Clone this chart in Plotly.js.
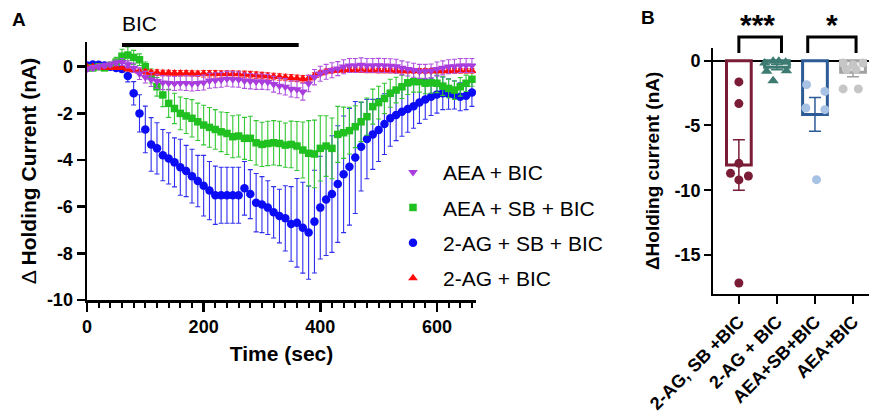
<!DOCTYPE html>
<html>
<head>
<meta charset="utf-8">
<script src="https://cdn.plot.ly/plotly-3.0.1.min.js"></script>
<style>html,body{margin:0;padding:0;background:#fff;}#chart{width:869px;height:414px;}</style>
</head>
<body>
<div id="chart"></div>
<script>
// ---------- Panel A data ----------
const timeSec = [0,10,20,30,40,50,60,70,80,90,
  100,110,120,130,140,150,160,170,180,190,
  200,210,220,230,240,250,260,270,280,290,
  300,310,320,330,340,350,360,370,380,390,
  400,410,420,430,440,450,460,470,480,490,
  500,510,520,530,540,550,560,570,580,590,
  600,610,620,630,640,650,660];

const agSbMean = [0.05,0.1,0.08,0.05,0.0,-0.05,-0.1,-0.4,-1.14,-2.0,
  -2.69,-3.33,-3.5,-3.79,-3.93,-4.1,-4.31,-4.47,-4.69,-4.9,
  -5.1,-5.31,-5.51,-5.51,-5.51,-5.51,-5.51,-5.21,-5.46,-5.83,
  -5.91,-6.04,-6.24,-6.4,-6.5,-6.74,-6.69,-6.9,-7.11,-6.64,
  -6.04,-5.69,-5.46,-5.03,-4.61,-4.29,-3.89,-3.43,-3.1,-2.9,
  -2.71,-2.46,-2.21,-2.07,-1.93,-1.81,-1.69,-1.53,-1.4,-1.29,
  -1.19,-1.14,-1.17,-1.21,-1.29,-1.24,-1.1];
const agSbSem = [0.08,0.08,0.08,0.08,0.08,0.1,0.12,0.25,0.5,0.8,
  1.0,1.15,1.1,1.1,1.1,1.05,1.2,1.1,1.15,1.1,
  1.3,1.25,1.25,1.2,1.2,1.2,1.2,1.15,1.05,1.25,
  1.2,1.15,1.1,1.15,1.4,1.6,1.9,1.95,2.0,2.2,
  2.2,2.4,2.5,2.5,2.5,2.5,2.4,1.9,1.7,1.5,
  1.35,1.3,1.2,1.1,1.05,1.0,0.95,0.9,0.85,0.8,
  0.8,0.7,0.65,0.6,0.6,0.6,0.6];

const aeaSbMean = [-0.05,-0.05,0.0,-0.05,0.05,0.2,0.45,0.5,0.4,0.3,
  0.0,-0.4,-0.86,-1.21,-1.57,-1.79,-2.0,-2.11,-2.21,-2.36,
  -2.5,-2.6,-2.69,-2.79,-2.86,-3.0,-2.97,-3.07,-3.07,-3.26,
  -3.33,-3.29,-3.26,-3.29,-3.36,-3.33,-3.4,-3.57,-3.71,-3.74,
  -3.5,-3.4,-3.5,-2.9,-2.83,-2.74,-2.57,-2.36,-2.14,-1.71,
  -1.54,-1.36,-1.14,-1.0,-0.86,-0.69,-0.64,-0.64,-0.71,-0.69,
  -0.71,-0.83,-0.93,-1.0,-0.86,-0.71,-0.54];
const aeaSbSem = [0.1,0.1,0.1,0.1,0.15,0.2,0.3,0.35,0.3,0.25,
  0.2,0.3,0.4,0.5,0.6,0.65,0.7,0.75,0.8,0.8,
  0.85,0.85,0.85,0.85,0.9,0.9,0.9,0.9,0.95,0.95,
  0.95,0.95,0.95,0.95,0.95,1.0,1.05,1.2,1.4,1.45,
  1.4,1.3,1.3,1.2,1.1,1.0,0.9,0.85,0.8,0.75,
  0.7,0.65,0.6,0.55,0.5,0.5,0.45,0.45,0.45,0.45,
  0.4,0.4,0.4,0.4,0.4,0.35,0.3];

const aeaMean = [-0.1,-0.05,0.0,0.05,0.1,0.17,0.2,0.1,-0.05,-0.3,
  -0.45,-0.55,-0.62,-0.68,-0.7,-0.72,-0.7,-0.7,-0.72,-0.7,
  -0.68,-0.6,-0.58,-0.56,-0.52,-0.54,-0.55,-0.6,-0.62,-0.64,
  -0.64,-0.66,-0.75,-0.82,-0.86,-0.95,-0.97,-1.07,-0.72,-0.45,
  -0.3,-0.22,-0.15,-0.08,0.0,0.05,0.05,0.08,0.05,0.05,
  0.06,0.05,0.04,0.02,-0.05,-0.1,-0.15,-0.2,-0.2,-0.18,
  -0.1,-0.05,0.0,0.02,0.05,0.05,0.05];
const aeaSem = [0.1,0.1,0.1,0.1,0.1,0.12,0.15,0.15,0.2,0.25,
  0.25,0.3,0.3,0.3,0.3,0.3,0.3,0.32,0.32,0.32,
  0.32,0.32,0.32,0.32,0.32,0.33,0.33,0.33,0.33,0.33,
  0.33,0.33,0.34,0.34,0.35,0.35,0.36,0.36,0.35,0.33,
  0.32,0.32,0.32,0.3,0.3,0.3,0.3,0.3,0.3,0.3,
  0.3,0.3,0.3,0.3,0.3,0.3,0.3,0.3,0.3,0.3,
  0.3,0.3,0.3,0.3,0.3,0.3,0.3];

const agMean = [0.0,0.0,-0.02,-0.05,-0.05,-0.05,-0.05,-0.1,-0.15,-0.2,
  -0.22,-0.25,-0.25,-0.27,-0.27,-0.28,-0.28,-0.28,-0.29,-0.3,
  -0.3,-0.3,-0.3,-0.31,-0.31,-0.31,-0.32,-0.33,-0.34,-0.36,
  -0.38,-0.4,-0.42,-0.44,-0.46,-0.48,-0.5,-0.52,-0.5,-0.38,
  -0.27,-0.2,-0.17,-0.15,-0.14,-0.14,-0.15,-0.15,-0.16,-0.16,
  -0.17,-0.17,-0.17,-0.18,-0.18,-0.18,-0.18,-0.18,-0.18,-0.18,
  -0.18,-0.18,-0.18,-0.18,-0.18,-0.18,-0.18];
const agSem = [0.05,0.05,0.05,0.05,0.05,0.05,0.05,0.08,0.1,0.1,
  0.1,0.1,0.12,0.12,0.12,0.12,0.12,0.12,0.12,0.12,
  0.14,0.14,0.14,0.14,0.14,0.14,0.14,0.14,0.14,0.14,
  0.14,0.14,0.14,0.14,0.14,0.14,0.14,0.14,0.13,0.12,
  0.1,0.1,0.1,0.1,0.1,0.1,0.1,0.1,0.1,0.1,
  0.1,0.1,0.1,0.1,0.1,0.1,0.1,0.1,0.1,0.1,
  0.1,0.1,0.1,0.1,0.1,0.1,0.1];

const seriesNames = ["AEA + BIC", "AEA + SB + BIC", "2-AG + SB + BIC", "2-AG + BIC"];
const aTickVals = [0, -2, -4, -6, -8, -10];
const aTickText = ["0", "-2", "-4", "-6", "-8", "-10"];
const timeTickVals = [0, 200, 400, 600];

// ---------- Panel B data ----------
const bCategories = ["2-AG, SB +BIC", "2-AG + BIC", "AEA+SB+BIC", "AEA+BIC"];
const bMeans = [-8.05, -0.5, -4.15, -0.9];
const bSem = [1.95, 0.2, 1.3, 0.35];
const bPts1 = [-1.64, -3.31, -7.92, -8.69, -9.2, -8.9, -17.15];
const bPts2 = [-0.18, -0.05, -0.05, -0.13, -0.82, -0.77, -1.54];
const bPts3 = [-1.85, -2.37, -3.65, -3.78, -9.18];
const bPts4 = [-0.18, -0.31, -0.18, -0.69, -0.69, -2.18, -2.18];
const bTickVals = [0, -5, -10, -15];
const bTickText = ["0", "-5", "-10", "-15"];

// horizontal spread of dots (layout only)
const spread1 = [0, 0, 0, -0.22, 0, 0.25, 0];
const spread2 = [-0.32, -0.1, 0.05, 0.23, -0.27, 0.25, -0.1];
const spread3 = [-0.22, 0.26, -0.24, 0.26, 0.04];
const spread4 = [-0.26, 0, 0.26, -0.17, 0.08, -0.26, 0.14];

// ---------- styling ----------
const FONT = "Liberation Sans, Arial, sans-serif";
const W = 869, H = 414;
const px = v => v / W;
const py = v => 1 - v / H;

function tsTrace(name, y, err, color, errColor, symbol, size, rank) {
  return {
    type: "scatter", mode: "markers", name: name, x: timeSec, y: y,
    xaxis: "x", yaxis: "y", legendgroup: name, legendrank: rank,
    marker: {color: color, symbol: symbol, size: size, line: {width: 0}},
    error_y: {type: "data", array: err, visible: true, color: errColor, thickness: 1.1, width: 2.5}
  };
}

const traces = [
  tsTrace(seriesNames[2], agSbMean, agSbSem, "#0b0bf5", "#2f2ff0", "circle", 8.5, 3),
  tsTrace(seriesNames[1], aeaSbMean, aeaSbSem, "#1fc01f", "#33c833", "square", 7.5, 2),
  tsTrace(seriesNames[3], agMean, agSem, "#ff0a0a", "#ff3030", "triangle-up", 8.5, 4),
  tsTrace(seriesNames[0], aeaMean, aeaSem, "#a83cdc", "#b050e0", "triangle-down", 8.5, 1)
];

const barColors = ["#7a1c36", "#3d7b72", "#2c5b95", "#a0a0a0"];
const dotColors = ["#7a1c36", "#3d7b72", "#a8c2e4", "#c6c6c6"];
const dotSymbols = ["circle", "triangle-up", "circle", "circle"];
const dotSizes = [9, 10, 9, 9];
const allPts = [bPts1, bPts2, bPts3, bPts4];
const allSpread = [spread1, spread2, spread3, spread4];

for (let i = 0; i < 4; i++) {
  traces.push({
    type: "bar", x: [i], y: [bMeans[i]], xaxis: "x2", yaxis: "y2", width: 0.65,
    showlegend: false,
    marker: {color: "rgba(255,255,255,0)", line: {color: barColors[i], width: 3}},
    error_y: {type: "data", array: [bSem[i]], visible: true, color: barColors[i], thickness: 1.5, width: 6}
  });
}
for (let i = 0; i < 4; i++) {
  traces.push({
    type: "scatter", mode: "markers", xaxis: "x2", yaxis: "y2", showlegend: false,
    x: allPts[i].map((v, k) => i + allSpread[i][k]), y: allPts[i],
    marker: {color: dotColors[i], symbol: dotSymbols[i], size: dotSizes[i], line: {width: 0}}
  });
}

const tickFont = {family: FONT, size: 18, color: "#000", weight: "bold"};

const layout = {
  width: W, height: H,
  margin: {l: 0, r: 0, t: 0, b: 0},
  paper_bgcolor: "#fff", plot_bgcolor: "rgba(0,0,0,0)",
  font: {family: FONT, color: "#000"},
  barmode: "overlay",
  showlegend: true,
  legend: {
    x: px(383), xanchor: "left", y: py(152), yanchor: "top",
    font: {family: FONT, size: 21, color: "#000"},
    itemwidth: 50, traceorder: "grouped", tracegroupgap: 5,
    bgcolor: "rgba(0,0,0,0)", borderwidth: 0
  },
  xaxis: {
    domain: [px(87), px(476)], range: [0, 667], anchor: "y",
    showline: true, linecolor: "#000", linewidth: 2.5, mirror: false,
    ticks: "outside", ticklen: 9, tickwidth: 2.5, tickcolor: "#000",
    tickvals: timeTickVals, tickfont: tickFont,
    minor: {ticks: "outside", dtick: 20, tick0: 0, ticklen: 5, tickwidth: 2, tickcolor: "#000", showgrid: false},
    showgrid: false, zeroline: false, automargin: false,
    title: {text: "Time (sec)", font: {family: FONT, size: 21, weight: "bold", color: "#000"}, standoff: 10}
  },
  yaxis: {
    domain: [py(300), py(42)], range: [-10, 1.06], anchor: "x",
    showline: true, linecolor: "#000", linewidth: 2.5,
    ticks: "outside", ticklen: 8, tickwidth: 2.5, tickcolor: "#000",
    tickvals: aTickVals, ticktext: aTickText, tickfont: tickFont,
    showgrid: false, zeroline: false, automargin: false,
    title: {text: "Δ <b>Holding Current (nA)</b>", font: {family: FONT, size: 21, color: "#000"}, standoff: 5}
  },
  xaxis2: {
    domain: [px(713), 1], range: [-0.68, 3.42], anchor: "y2",
    showline: true, linecolor: "#000", linewidth: 2,
    ticks: "outside", ticklen: 8, tickwidth: 2, tickcolor: "#000",
    tickvals: [0, 1, 2, 3], ticktext: bCategories, tickangle: -45,
    tickfont: {family: FONT, size: 18, color: "#000", weight: "bold"},
    showgrid: false, zeroline: false, automargin: false
  },
  yaxis2: {
    domain: [py(294), py(47.7)], range: [-18, 1], anchor: "x2",
    showline: true, linecolor: "#000", linewidth: 2,
    ticks: "outside", ticklen: 7, tickwidth: 2, tickcolor: "#000",
    tickvals: bTickVals, ticktext: bTickText, tickfont: tickFont,
    showgrid: false, zeroline: true, zerolinecolor: "#000", zerolinewidth: 2, automargin: false,
    title: {text: "ΔHolding current (nA)", font: {family: FONT, size: 19, weight: "bold", color: "#000"}, standoff: 10}
  },
  shapes: [
    {type: "line", xref: "x", yref: "y", x0: 60, x1: 363, y0: 0.93, y1: 0.93, line: {color: "#000", width: 4}},
    {type: "path", xref: "x2", yref: "paper",
     path: `M0,${py(53)} L0,${py(37)} L1.12,${py(37)} L1.12,${py(53)}`, line: {color: "#000", width: 3}},
    {type: "path", xref: "x2", yref: "paper",
     path: `M1.81,${py(53)} L1.81,${py(37)} L3.08,${py(37)} L3.08,${py(53)}`, line: {color: "#000", width: 3}}
  ],
  annotations: [
    {text: "<b>A</b>", x: px(19), y: py(20), xref: "paper", yref: "paper", showarrow: false,
     xanchor: "center", yanchor: "middle", font: {family: FONT, size: 19, color: "#000"}},
    {text: "<b>B</b>", x: px(648), y: py(18), xref: "paper", yref: "paper", showarrow: false,
     xanchor: "center", yanchor: "middle", font: {family: FONT, size: 19, color: "#000"}},
    {text: "BIC", x: px(139), y: py(23), xref: "paper", yref: "paper", showarrow: false,
     xanchor: "center", yanchor: "middle", font: {family: FONT, size: 21, color: "#000"}},
    {text: "<b>***</b>", x: 0.5, xref: "x2", y: py(24), yref: "paper", showarrow: false,
     xanchor: "center", yanchor: "middle", font: {family: FONT, size: 30, color: "#000"}},
    {text: "<b>*</b>", x: 2.45, xref: "x2", y: py(24), yref: "paper", showarrow: false,
     xanchor: "center", yanchor: "middle", font: {family: FONT, size: 30, color: "#000"}}
  ]
};

Plotly.newPlot("chart", traces, layout, {displayModeBar: false, staticPlot: true});
</script>
</body>
</html>
